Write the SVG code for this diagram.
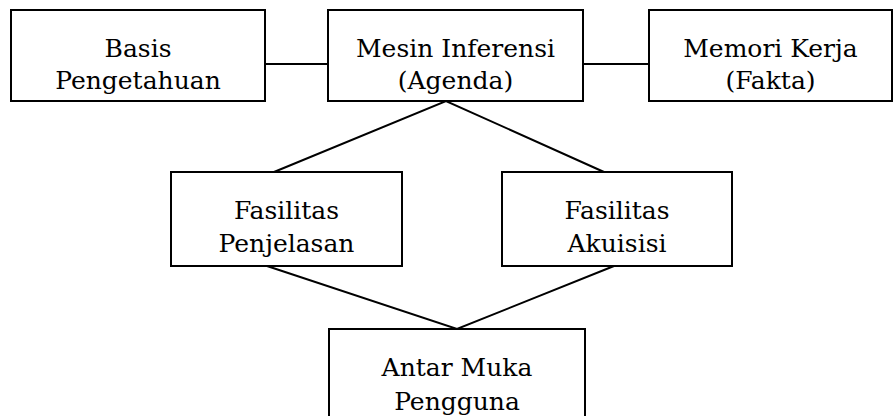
<svg xmlns="http://www.w3.org/2000/svg" width="894" height="416" viewBox="0 0 894 416">
<style>
.box{fill:#fff;stroke:#000;stroke-width:2}
.ln{stroke:#000;stroke-width:2;fill:none}
.t{font-family:"DejaVu Serif",serif;font-size:25px;fill:#000;text-anchor:middle}
</style>
<rect width="894" height="416" fill="#fff"/>
<g id="connectors">
<line class="ln" x1="265" y1="64" x2="328" y2="64"/>
<line class="ln" x1="583" y1="64" x2="649" y2="64"/>
<polyline class="ln" points="274,172 446,101 604,172"/>
<polyline class="ln" points="267,266 457,329 614,266"/>
</g>
<g id="basis"><rect class="box" x="11" y="10" width="254" height="91"/><text class="t" x="138" y="57">Basis</text><text class="t" x="138" y="89">Pengetahuan</text></g>
<g id="mesin"><rect class="box" x="328" y="10" width="255" height="91"/><text class="t" x="455.5" y="57">Mesin Inferensi</text><text class="t" x="455.5" y="89">(Agenda)</text></g>
<g id="memori"><rect class="box" x="649" y="10" width="243" height="91"/><text class="t" x="770.5" y="57">Memori Kerja</text><text class="t" x="770.5" y="89">(Fakta)</text></g>
<g id="penjelasan"><rect class="box" x="171" y="172" width="231" height="94"/><text class="t" x="286.5" y="219">Fasilitas</text><text class="t" x="286.5" y="252">Penjelasan</text></g>
<g id="akuisisi"><rect class="box" x="502" y="172" width="230" height="94"/><text class="t" x="617" y="219">Fasilitas</text><text class="t" x="617" y="252">Akuisisi</text></g>
<g id="antarmuka"><rect class="box" x="329" y="329" width="256" height="100"/><text class="t" x="457" y="376">Antar Muka</text><text class="t" x="457" y="410">Pengguna</text></g>
</svg>
